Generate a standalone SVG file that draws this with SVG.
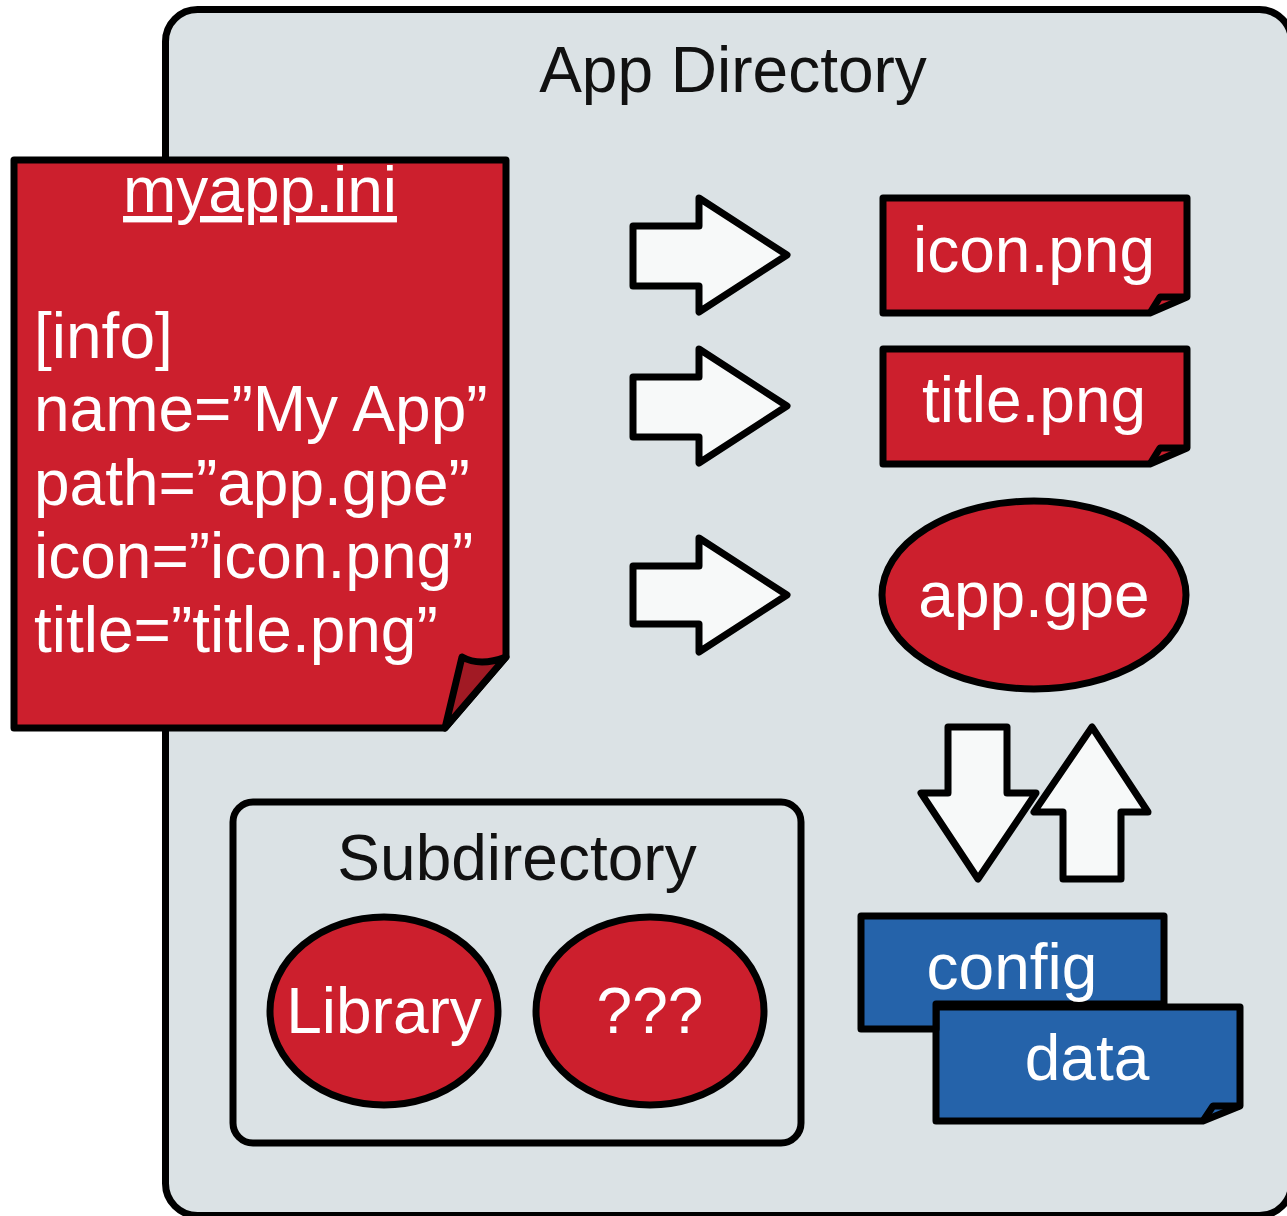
<svg xmlns="http://www.w3.org/2000/svg" width="1287" height="1216" viewBox="0 0 1287 1216">
  <style>
    .stk { stroke: #000; stroke-width: 7; stroke-linejoin: round; }
    .red { fill: #CC1F2D; }
    .blue { fill: #2563AA; }
    .arrow { fill: #F7F9F9; stroke: #000; stroke-width: 7; stroke-linejoin: round; }
    .t { font-family: "Liberation Sans", Arial, sans-serif; font-size: 64px; }
    .w { fill: #FFFFFF; }
    .k { fill: #111111; }
    .c { text-anchor: middle; }
  </style>
  <rect width="1287" height="1216" fill="#FFFFFF"/>

  <!-- App directory container -->
  <g id="app-directory">
    <rect x="165.5" y="9.5" width="1126" height="1206" rx="32" fill="#DBE2E5" class="stk"/>
    <text x="733" y="92" class="t k c">App Directory</text>
  </g>

  <!-- myapp.ini document -->
  <g id="myapp-ini">
    <path d="M14,160 H506 V657 L445,728 H14 Z" class="red stk"/>
    <path d="M445,728 L462,657 Q480,667 506,657 Z" fill="#A11A24" class="stk"/>
    <text x="260" y="212" class="t w c" text-decoration="underline">myapp.ini</text>
    <text x="34" y="358" class="t w">[info]</text>
    <text x="34" y="431" class="t w">name=”My App”</text>
    <text x="34" y="505" class="t w">path=”app.gpe”</text>
    <text x="34" y="578" class="t w">icon=”icon.png”</text>
    <text x="34" y="652" class="t w">title=”title.png”</text>
  </g>

  <!-- icon.png -->
  <g id="icon-png">
    <path d="M883,198 H1187 V297 L1150,313 H883 Z" class="red stk"/>
    <path d="M1150,313 L1160,297 H1187" fill="none" class="stk"/>
    <text x="1034" y="272" class="t w c">icon.png</text>
  </g>

  <!-- title.png -->
  <g id="title-png">
    <path d="M883,349 H1187 V448 L1150,464 H883 Z" class="red stk"/>
    <path d="M1150,464 L1160,448 H1187" fill="none" class="stk"/>
    <text x="1034" y="422" class="t w c">title.png</text>
  </g>

  <!-- app.gpe -->
  <g id="app-gpe">
    <ellipse cx="1034" cy="595" rx="152" ry="94" class="red stk"/>
    <text x="1034" y="617" class="t w c">app.gpe</text>
  </g>

  <!-- data file (behind config) -->
  <g id="data">
    <path d="M936,1007 H1240 V1106 L1203,1121 H936 Z" class="blue stk"/>
    <path d="M1203,1121 L1213,1106 H1240" fill="none" class="stk"/>
    <text x="1087" y="1080" class="t w c">data</text>
  </g>

  <!-- config file -->
  <g id="config">
    <path d="M861,916 H1164 V1004 H936 V1029 H861 Z" class="blue stk"/>
    <text x="1012" y="989" class="t w c">config</text>
  </g>

  <!-- Subdirectory -->
  <g id="subdirectory">
    <rect x="233" y="802" width="568" height="341" rx="20" fill="#DBE2E5" class="stk"/>
    <text x="517" y="880" class="t k c">Subdirectory</text>
  </g>
  <g id="library">
    <ellipse cx="384" cy="1011" rx="114" ry="94" class="red stk"/>
    <text x="384" y="1033" class="t w c">Library</text>
  </g>
  <g id="unknown">
    <ellipse cx="650" cy="1011" rx="114" ry="94" class="red stk"/>
    <text x="650" y="1033" class="t w c">???</text>
  </g>

  <!-- Connectors -->
  <g id="connectors">
    <path d="M633,226 H699 V198 L787,255 L699,312 V286 H633 Z" class="arrow"/>
    <path d="M633,377 H699 V349 L787,406 L699,463 V437 H633 Z" class="arrow"/>
    <path d="M633,566 H699 V538 L787,595 L699,652 V624 H633 Z" class="arrow"/>
    <path d="M948,727 H1007 V793 H1036 L978,879 L921,793 H948 Z" class="arrow"/>
    <path d="M1063,879 H1121 V812 H1148 L1092,727 L1034,812 H1063 Z" class="arrow"/>
  </g>
</svg>
